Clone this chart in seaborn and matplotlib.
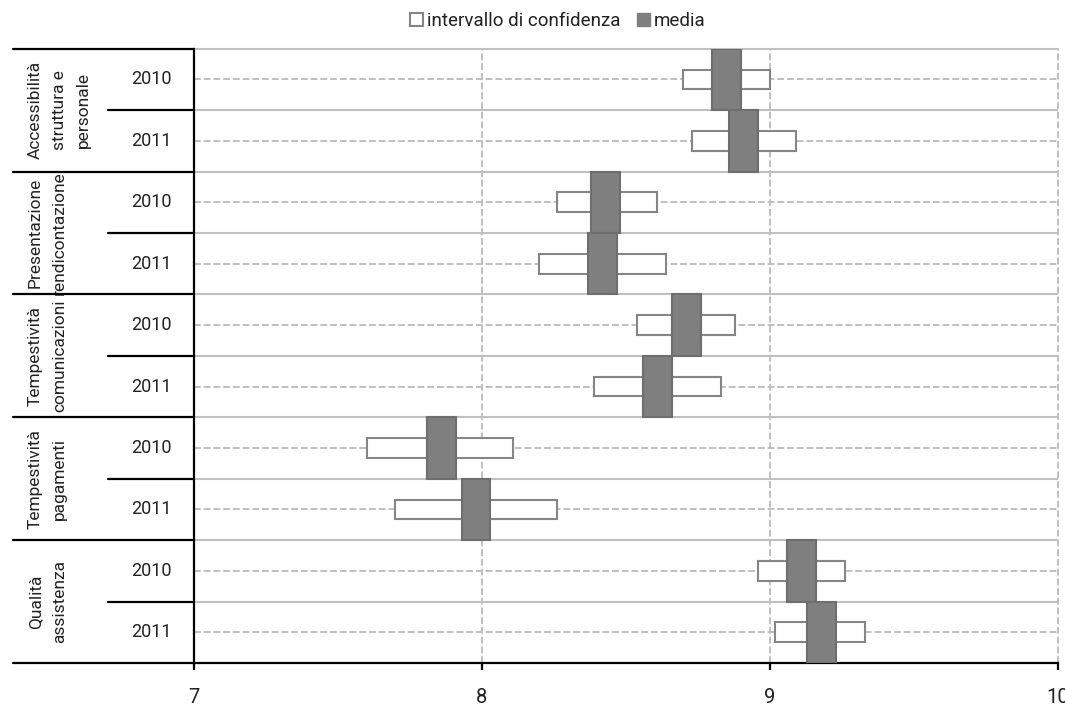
import numpy as np
import pandas as pd
import matplotlib
matplotlib.use("Agg")
import matplotlib.pyplot as plt
import matplotlib.transforms as mtransforms
from matplotlib.patches import Patch
import seaborn as sns

# ---------------- data ----------------
groups = ["Accessibilità\nstruttura e\npersonale",
          "Presentazione\nrendicontazione",
          "Tempestività\ncomunicazioni",
          "Tempestività\npagamenti",
          "Qualità\nassistenza"]
years = ["2010", "2011"]
media = [8.85, 8.91, 8.43, 8.42, 8.71, 8.61, 7.86, 7.98, 9.11, 9.18]
ci_low = [8.70, 8.73, 8.26, 8.20, 8.54, 8.39, 7.60, 7.70, 8.96, 9.02]
ci_high = [9.00, 9.09, 8.61, 8.64, 8.88, 8.83, 8.11, 8.26, 9.26, 9.33]
x_ticks = [7, 8, 9, 10]
legend_labels = ["intervallo di confidenza", "media"]

rows = []
for gi, g in enumerate(groups):
    for yi, y in enumerate(years):
        rows.append({"group": g, "year": y, "gi": gi})
df = pd.DataFrame(rows)
df["media"] = media
df["low"] = ci_low
df["high"] = ci_high
df["pos"] = np.arange(len(df))

# ---------------- style ----------------
sns.set_theme(style="white")
plt.rcParams["font.family"] = ["Roboto", "DejaVu Sans"]
TXT = "#222222"
GRID = "#c0c0c0"

W, H = 1065, 707
fig = plt.figure(figsize=(W / 100, H / 100), dpi=100)
x0, x1 = 194, 1057.5
y0, y1 = 48.7, 663
ax = fig.add_axes([x0 / W, 1 - y1 / H, (x1 - x0) / W, (y1 - y0) / H])
ax_w = x1 - x0

n = len(df)
ax.set_xlim(x_ticks[0], x_ticks[-1])
ax.set_ylim(n - 0.5, -0.5)

# gridlines
for k in range(n - 1):
    ax.axhline(k + 0.5, color=GRID, lw=1.5, zorder=1)
for k in range(n):
    ax.axhline(k, color=GRID, lw=1.4, ls=(0, (3.5, 1.5)), zorder=1)
for t in x_ticks[1:]:
    ax.axvline(t, color=GRID, lw=1.4, ls=(0, (3.5, 1.5)), zorder=1, clip_on=False)

# confidence interval boxes
ax.barh(df["pos"], df["high"] - df["low"], left=df["low"], height=0.32,
        color="white", edgecolor="#858585", linewidth=1.5, zorder=3)
# mean bars
mw = 0.1
ax.barh(df["pos"], mw, left=df["media"] - mw / 2, height=1.0,
        color="#7f7f7f", edgecolor="#6e6e6e", linewidth=1.5, zorder=4)

# spines / ticks
for s in ["left", "bottom"]:
    ax.spines[s].set_color("black")
    ax.spines[s].set_linewidth(1.6)
ax.spines["top"].set_color(GRID)
ax.spines["top"].set_linewidth(1.5)
ax.spines["right"].set_visible(False)
ax.set_yticks([])
ax.set_xticks(x_ticks)
ax.set_xticklabels([str(t) for t in x_ticks])
ax.tick_params(axis="x", direction="out", length=5, width=1.6, color="black",
               pad=13, labelsize=14.5, labelcolor=TXT, bottom=True)

# left category table
tr = mtransforms.blended_transform_factory(ax.transAxes, ax.transData)
gx = (13 - x0) / ax_w
yx = (108 - x0) / ax_w
for gi in range(len(groups) + 1):
    yb = gi * 2 - 0.5
    ax.plot([gx, 0], [yb, yb], color="black", lw=1.6, transform=tr, clip_on=False, zorder=5)
for gi in range(len(groups)):
    yb = gi * 2 + 0.5
    ax.plot([yx, 0], [yb, yb], color="black", lw=1.6, transform=tr, clip_on=False, zorder=5)

for _, r in df.iterrows():
    ax.text((151 - x0) / ax_w, r["pos"], r["year"], transform=tr, ha="center", va="center",
            fontsize=13, color=TXT)
for gi, g in enumerate(groups):
    ax.text((28 - x0) / ax_w, gi * 2 + 0.5, g, transform=tr, rotation=90, ha="left",
            va="center", multialignment="center", fontsize=12.5, color=TXT, linespacing=1.75)

# legend
handles = [Patch(facecolor="white", edgecolor="#858585", linewidth=1.5),
           Patch(facecolor="#7f7f7f", edgecolor="#7f7f7f")]
fig.legend(handles, legend_labels, loc="center", bbox_to_anchor=(558 / W, 1 - 21 / H),
           ncol=2, frameon=False, handlelength=0.7, handleheight=0.7, handletextpad=0.2,
           columnspacing=0.9, fontsize=13.5, labelcolor=TXT)

fig.savefig("out.png", dpi=100)
